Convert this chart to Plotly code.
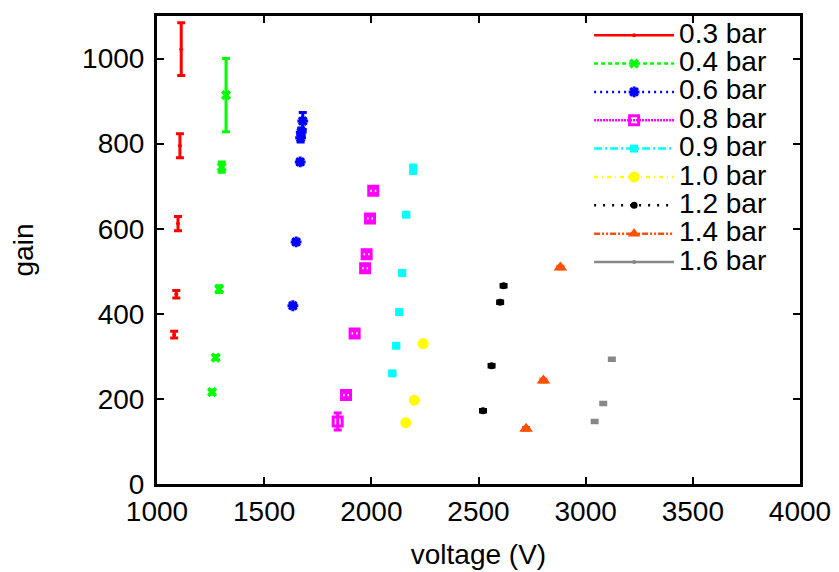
import plotly.graph_objects as go

series_names = ["0.3 bar", "0.4 bar", "0.6 bar", "0.8 bar", "0.9 bar", "1.0 bar", "1.2 bar", "1.4 bar", "1.6 bar"]

v_03 = [1113, 1107, 1098, 1090, 1080]
g_03 = [1022, 795, 612, 446, 351]
e_03 = [62, 28, 17, 9, 8]

v_04 = [1322, 1302, 1290, 1274, 1257]
g_04 = [914, 745, 458, 297, 216]
e_04 = [86, 12, 8, 5, 5]

v_06 = [1680, 1673, 1670, 1668, 1649, 1634]
g_06 = [853, 827, 814, 757, 569, 419]
e_06 = [20, 10, 10, 6, 5, 5]

v_08 = [2009, 1994, 1978, 1971, 1922, 1882, 1843]
g_08 = [689, 624, 540, 507, 354, 209, 147]
e_08 = [6, 6, 6, 6, 6, 6, 20]

v_09 = [2195, 2163, 2144, 2130, 2116, 2098]
g_09 = [740, 633, 496, 404, 325, 260]
e_09 = [10, 4, 4, 4, 4, 4]

v_10 = [2242, 2201, 2161]
g_10 = [330, 197, 144]
e_10 = [3, 3, 3]

v_12 = [2617, 2601, 2561, 2521]
g_12 = [466, 427, 278, 172]
e_12 = [3, 3, 3, 3]

v_14 = [2882, 2803, 2722]
g_14 = [509, 243, 130]
e_14 = [3, 3, 3]

v_16 = [3122, 3082, 3042]
g_16 = [293, 189, 147]
e_16 = [3, 3, 3]

xs = [v_03, v_04, v_06, v_08, v_09, v_10, v_12, v_14, v_16]
ys = [g_03, g_04, g_06, g_08, g_09, g_10, g_12, g_14, g_16]
es = [e_03, e_04, e_06, e_08, e_09, e_10, e_12, e_14, e_16]

colors = ["#ff0000", "#00ff00", "#0000ff", "#ff00ff", "#00ffff", "#ffff00", "#000000", "#ff4f00", "#888888"]
dashes = ["solid", "4px,3px", "2px,4px", "2px,1px", "8px,3px,2px,3px", "4px,4px,1px,4px", "2px,7px", "6px,2px,2px,2px,2px,2px", "solid"]
symbols = ["circle", "x", "asterisk-open", "square-open", "square", "circle", "circle", "triangle-up", "circle"]
sizes = [4, 9, 9, 9, 8, 11, 7, 12, 4]

FONT = "Liberation Sans, Arial, sans-serif"

fig = go.Figure()
for i, name in enumerate(series_names):
    open_sym = symbols[i].endswith("open")
    marker = dict(symbol=symbols[i], size=sizes[i], color=colors[i],
                  line=dict(color=colors[i], width=3 if open_sym else 0))
    fig.add_trace(go.Scatter(
        x=xs[i], y=ys[i], mode="markers", name=name, legendgroup=name,
        showlegend=False, marker=marker,
        error_y=dict(type="data", array=es[i], visible=True, color=colors[i], thickness=3, width=4),
    ))
    fig.add_trace(go.Scatter(
        x=[None], y=[None], mode="lines+markers", legendgroup=name,
        name='<span style="font-size:28px">' + name + '</span>',
        line=dict(color=colors[i], width=2.5, dash=dashes[i]),
        marker=dict(symbol=symbols[i], size=min(sizes[i], 11), color=colors[i],
                    line=dict(color=colors[i], width=3 if open_sym else 0)),
    ))

axis_common = dict(
    showline=True, linecolor="black", linewidth=3, mirror="ticks",
    ticks="inside", ticklen=7, tickwidth=2, tickcolor="black",
    showgrid=False, zeroline=False,
    tickfont=dict(family=FONT, size=28, color="black"),
    title_font=dict(family=FONT, size=28, color="black"),
)

fig.update_xaxes(range=[1000, 4000], tickvals=[1000, 1500, 2000, 2500, 3000, 3500, 4000],
                 title_text="voltage (V)", title_standoff=19, **axis_common)
fig.update_yaxes(range=[0, 1100], tickvals=[0, 200, 400, 600, 800, 1000],
                 title_text="gain", title_standoff=44, ticklabelstandoff=4, **axis_common)

fig.update_layout(
    width=839, height=572,
    margin=dict(l=149, r=47, t=5, b=96),
    plot_bgcolor="white", paper_bgcolor="white",
    font=dict(family=FONT, size=20, color="black"),
    legend=dict(x=0.672, y=1.0, xanchor="left", yanchor="top", bgcolor="rgba(0,0,0,0)",
                borderwidth=0, itemwidth=80, font=dict(family=FONT, size=19.5), tracegroupgap=0),
    showlegend=True,
)

fig.write_html("out.html")
